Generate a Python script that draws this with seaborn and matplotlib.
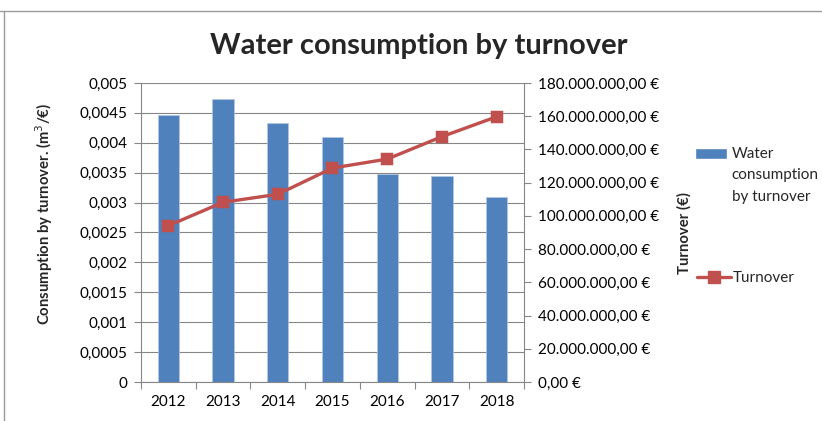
import numpy as np
import pandas as pd
import seaborn as sns
import matplotlib.pyplot as plt
from matplotlib.patches import Patch, Rectangle
from matplotlib.lines import Line2D
from matplotlib.legend_handler import HandlerPatch
from matplotlib.ticker import FuncFormatter

# data
years = ['2012', '2013', '2014', '2015', '2016', '2017', '2018']
water_per_turnover = [0.00447, 0.00474, 0.00433, 0.00410, 0.00347, 0.00345, 0.00310]
turnover = [94.1e6, 108.2e6, 113.0e6, 128.8e6, 134.2e6, 147.7e6, 159.7e6]
left_ticks = [0, 0.0005, 0.001, 0.0015, 0.002, 0.0025, 0.003, 0.0035, 0.004, 0.0045, 0.005]
right_ticks = [0, 20e6, 40e6, 60e6, 80e6, 100e6, 120e6, 140e6, 160e6, 180e6]

BLUE = '#4F81BD'
RED = '#C0504D'
GREY = '#868686'

sns.set_theme(style='white')
plt.rcParams['font.family'] = ['Lato', 'DejaVu Sans']

df = pd.DataFrame({'Year': years, 'Water': water_per_turnover, 'Turnover': turnover})

fig = plt.figure(figsize=(8.22, 4.21), dpi=100)
ax = fig.add_axes([0.1715, 0.0926, 0.466, 0.7103])

sns.barplot(data=df, x='Year', y='Water', color=BLUE, saturation=1, width=0.39,
            edgecolor='#b4c8e2', linewidth=0.5, ax=ax)
ax.set_axisbelow(True)

ax2 = ax.twinx()
sns.pointplot(data=df, x='Year', y='Turnover', color=RED, markers='s', errorbar=None,
              markersize=7.5, linewidth=2.4, ax=ax2)

# left axis
ax.set_ylim(0, 0.005)
ax.set_yticks(left_ticks)
ax.yaxis.set_major_formatter(FuncFormatter(lambda v, p: f"{round(v, 4):g}".replace('.', ',')))
ax.yaxis.grid(True, color=GREY, linewidth=0.8)
ax.xaxis.grid(False)
ax.tick_params(axis='y', left=True, direction='out', length=5, width=0.8, color=GREY,
               labelsize=11, labelcolor='black', pad=5)
ax.set_ylabel('Consumption by turnover. (m$^3$/€)', fontsize=10.7, fontweight='bold')
ax.yaxis.set_label_coords(-0.224, 0.562)

# x axis: ticks between categories
ax.set_xlabel('')
ax.set_xticks(np.arange(-0.5, len(years), 1), minor=True)
ax.tick_params(axis='x', which='major', bottom=True, length=0, labelsize=11, pad=9,
               labelcolor='black')
ax.tick_params(axis='x', which='minor', bottom=True, direction='out', length=5, width=0.8,
               color=GREY)
ax.set_xlim(-0.5, len(years) - 0.5)

for s in ['top', 'right']:
    ax.spines[s].set_visible(False)
for s in ['left', 'bottom']:
    ax.spines[s].set_color(GREY)
    ax.spines[s].set_linewidth(0.8)

# right axis
def euro(v, p):
    s = f"{v:,.2f}".replace(',', 'X').replace('.', ',').replace('X', '.')
    return s + ' €'

ax2.set_ylim(0, 180e6)
ax2.set_yticks(right_ticks)
ax2.yaxis.set_major_formatter(FuncFormatter(euro))
ax2.grid(False)
ax2.tick_params(axis='y', right=True, direction='out', length=5, width=0.8, color=GREY,
                labelsize=11, labelcolor='black', pad=5)
ax2.set_ylabel('Turnover (€)', fontsize=10.7, fontweight='bold')
ax2.yaxis.set_label_coords(1.40, 0.498)
for s in ['top', 'left', 'bottom']:
    ax2.spines[s].set_visible(False)
ax2.spines['right'].set_color(GREY)
ax2.spines['right'].set_linewidth(0.8)

fig.text(0.51, 0.8717, 'Water consumption by turnover', ha='center', va='baseline',
         fontsize=21, fontweight='bold')

# legends
def raised_patch(legend, orig_handle, xdescent, ydescent, width, height, fontsize):
    return Rectangle((-xdescent, -ydescent + 1.45 * fontsize), width, height)

leg1 = fig.legend(handles=[Patch(facecolor=BLUE)], labels=['Water\nconsumption\nby turnover'],
                  loc='upper left', bbox_to_anchor=(0.8455, 0.65), frameon=False,
                  fontsize=11, handlelength=2.1, handleheight=0.75, handletextpad=0.3,
                  borderpad=0, borderaxespad=0,
                  handler_map={Patch: HandlerPatch(patch_func=raised_patch)})
for t in leg1.get_texts():
    t.set_linespacing(1.65)

fig.legend(handles=[Line2D([], [], color=RED, linewidth=2.4, marker='s', markersize=8)],
           labels=['Turnover'], loc='center left', bbox_to_anchor=(0.848, 0.3397),
           frameon=False, fontsize=11, handlelength=2.2, handletextpad=0.15,
           borderpad=0, borderaxespad=0)

# outer frame of the screenshot
fig.add_artist(Line2D([0, 1], [0.973, 0.973], transform=fig.transFigure, color='#999999', linewidth=1))
fig.add_artist(Line2D([0.005, 0.005], [0, 0.973], transform=fig.transFigure, color='#999999', linewidth=1))

fig.savefig('out.png', dpi=100)
